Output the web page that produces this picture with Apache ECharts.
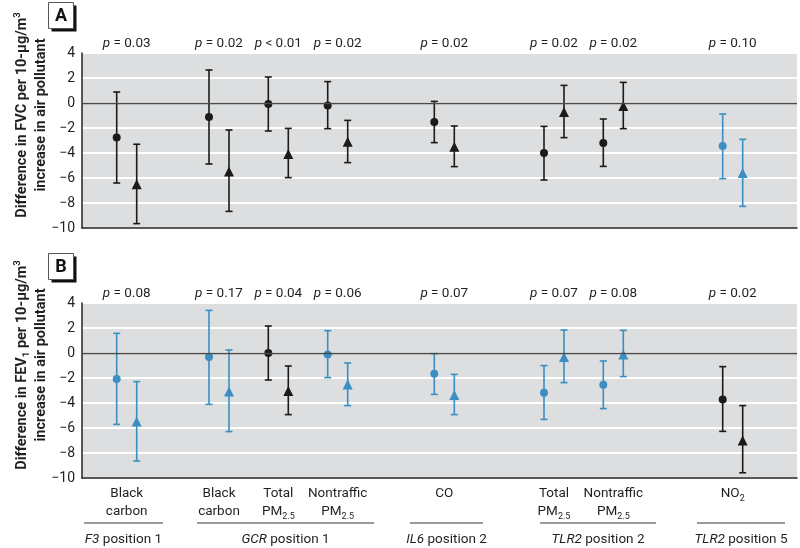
<!DOCTYPE html>
<html>
<head>
<meta charset="utf-8">
<script src="https://cdn.jsdelivr.net/npm/echarts@6/dist/echarts.min.js"></script>
<style>
html,body{margin:0;padding:0;background:#fff;}
#chart{width:800px;height:548px;}
</style>
</head>
<body>
<div id="chart"></div>
<script>
// ---- data ----
const categories = ['Black\ncarbon', 'Black\ncarbon', 'Total\nPM{sub|2.5}', 'Nontraffic\nPM{sub|2.5}', 'CO', 'Total\nPM{sub|2.5}', 'Nontraffic\nPM{sub|2.5}', 'NO{sub|2}'];
const categoryPos = [4.47, 13.7, 19.63, 25.57, 36.23, 47.2, 53.13, 65.07];
const groupNames = ['{i|F3} position 1', '{i|GCR} position 1', '{i|IL6} position 2', '{i|TLR2} position 2', '{i|TLR2} position 5'];
const groupStart = [0.2, 11.5, 32.8, 45.8, 61.5];
const groupEnd = [8.1, 29.2, 40.1, 57.4, 70.3];
const yTicks = [-10, -8, -6, -4, -2, 0, 2, 4];
const yTitleA = 'Difference in FVC per 10-\u00b5g/m{sup|3}\nincrease in air pollutant';
const yTitleB = 'Difference in FEV{sub|1} per 10-\u00b5g/m{sup|3}\nincrease in air pollutant';

const pValuesA = ['= 0.03', '= 0.02', '< 0.01', '= 0.02', '= 0.02', '= 0.02', '= 0.02', '= 0.10'];
const circleEstA = [-2.75, -1.12, -0.08, -0.19, -1.52, -4.0, -3.2, -3.44];
const circleLoA = [-6.4, -4.88, -2.24, -2.05, -3.17, -6.16, -5.07, -6.05];
const circleHiA = [0.88, 2.64, 2.08, 1.71, 0.13, -1.87, -1.28, -0.88];
const triEstA = [-6.5, -5.47, -4.08, -3.09, -3.49, -0.72, -0.24, -5.6];
const triLoA = [-9.65, -8.67, -5.97, -4.77, -5.09, -2.77, -2.05, -8.27];
const triHiA = [-3.3, -2.16, -2.03, -1.39, -1.84, 1.41, 1.65, -2.91];
const highlightA = [0, 0, 0, 0, 0, 0, 0, 1];

const pValuesB = ['= 0.08', '= 0.17', '= 0.04', '= 0.06', '= 0.07', '= 0.07', '= 0.08', '= 0.02'];
const circleEstB = [-2.08, -0.32, 0.0, -0.11, -1.65, -3.17, -2.53, -3.71];
const circleLoB = [-5.71, -4.11, -2.16, -1.97, -3.31, -5.31, -4.45, -6.27];
const circleHiB = [1.57, 3.41, 2.16, 1.79, -0.05, -1.01, -0.64, -1.09];
const triEstB = [-5.47, -3.07, -3.04, -2.51, -3.36, -0.32, -0.11, -6.99];
const triLoB = [-8.64, -6.29, -4.93, -4.21, -4.93, -2.37, -1.89, -9.58];
const triHiB = [-2.29, 0.24, -1.04, -0.8, -1.71, 1.84, 1.81, -4.21];
const highlightB = [1, 1, 0, 1, 1, 1, 1, 0];

// ---- style ----
const FONT = "Roboto, 'Liberation Sans', sans-serif";
const BLACK = '#1b1b1b';
const BLUE = '#3b8fc2';
const TXT = '#231f20';
const OFFSET = 1.0;
const XMAX = 71.5;

function idxOf(v) {
  let best = 0, bd = 1e9;
  categoryPos.forEach((p, i) => { const d = Math.abs(p - v); if (d < bd) { bd = d; best = i; } });
  return best;
}

function errorSeries(gi, lo, hi, hl, side) {
  const data = categoryPos.map((p, i) => [p + side * OFFSET, lo[i], hi[i], hl[i]]);
  return {
    type: 'custom', xAxisIndex: gi * 2, yAxisIndex: gi, silent: true, z: 3,
    data: data,
    encode: { x: 0, y: [1, 2] },
    renderItem: function (params, api) {
      const x = api.value(0);
      const a = api.coord([x, api.value(1)]);
      const b = api.coord([x, api.value(2)]);
      const c = api.value(3) ? BLUE : BLACK;
      const w = 3.5;
      const st = { stroke: c, lineWidth: 1.6 };
      return {
        type: 'group', children: [
          { type: 'line', shape: { x1: a[0], y1: a[1], x2: b[0], y2: b[1] }, style: st },
          { type: 'line', shape: { x1: a[0] - w, y1: a[1], x2: a[0] + w, y2: a[1] }, style: st },
          { type: 'line', shape: { x1: b[0] - w, y1: b[1], x2: b[0] + w, y2: b[1] }, style: st }
        ]
      };
    }
  };
}

function pointSeries(gi, est, hl, side, symbol, size) {
  return {
    type: 'scatter', xAxisIndex: gi * 2, yAxisIndex: gi, symbol: symbol, symbolSize: size, z: 4, silent: true,
    data: categoryPos.map((p, i) => ({ value: [p + side * OFFSET, est[i]], itemStyle: { color: hl[i] ? BLUE : BLACK, opacity: 1 } }))
  };
}

function zeroLine(gi) {
  return {
    type: 'line', xAxisIndex: gi * 2, yAxisIndex: gi, data: [], silent: true, z: 2,
    markLine: {
      silent: true, symbol: 'none', label: { show: false },
      lineStyle: { color: '#4a4a4a', width: 1.3, type: 'solid' },
      data: [{ yAxis: 0 }]
    }
  };
}

const grids = [
  { left: 82, top: 53, width: 715, height: 175, show: true, backgroundColor: '#dcdedf', borderWidth: 0, containLabel: false, outerBoundsMode: 'none' },
  { left: 82, top: 303, width: 715, height: 175, show: true, backgroundColor: '#dcdedf', borderWidth: 0, containLabel: false, outerBoundsMode: 'none' }
];

function bottomAxis(gi, withLabels) {
  return {
    type: 'value', gridIndex: gi, position: 'bottom', min: 0, max: XMAX,
    axisLine: { show: true, onZero: false, lineStyle: { color: '#222', width: 1.5 } },
    axisTick: { show: false }, splitLine: { show: false },
    axisLabel: withLabels ? {
      show: true, customValues: categoryPos, margin: 7, color: TXT, fontFamily: FONT, fontSize: 13.5, lineHeight: 18,
      formatter: function (v) { return categories[idxOf(v)]; },
      rich: { sub: { fontSize: 9, fontFamily: FONT, color: TXT, verticalAlign: 'bottom', lineHeight: 10 } }
    } : { show: false }
  };
}

function topAxis(gi, pv) {
  return {
    type: 'value', gridIndex: gi, position: 'top', min: 0, max: XMAX,
    axisLine: { show: false }, axisTick: { show: false }, splitLine: { show: false },
    axisLabel: {
      show: true, customValues: categoryPos, margin: 2, color: TXT, fontFamily: FONT, fontSize: 13.5,
      formatter: function (v) { return '{i|p} ' + pv[idxOf(v)]; },
      rich: { i: { fontStyle: 'italic', fontFamily: FONT, fontSize: 13.5, color: TXT } }
    }
  };
}

function yAxis(gi) {
  return {
    type: 'value', gridIndex: gi, min: yTicks[0], max: yTicks[yTicks.length - 1], interval: 2,
    axisLine: { show: true, onZero: false, lineStyle: { color: '#222', width: 1.5 } },
    axisTick: { show: false },
    splitLine: { show: true, lineStyle: { color: '#ffffff', width: 2 } },
    axisLabel: {
      color: TXT, fontFamily: FONT, fontSize: 14, margin: 7,
      formatter: function (v) { return String(v).replace('-', '\u2212'); }
    }
  };
}

function yTitle(text, cy) {
  return {
    type: 'text', x: 32, y: cy, rotation: Math.PI / 2, silent: true,
    style: {
      text: text, align: 'center', verticalAlign: 'middle',
      fill: TXT, fontFamily: FONT, fontSize: 14.5, fontWeight: 'bold', lineHeight: 19,
      rich: {
        sup: { fontSize: 9.5, fontWeight: 'bold', fontFamily: FONT, fill: TXT, verticalAlign: 'top', lineHeight: 10 },
        sub: { fontSize: 9.5, fontWeight: 'bold', fontFamily: FONT, fill: TXT, verticalAlign: 'bottom', lineHeight: 8 }
      }
    }
  };
}

const groupSeries = {
  type: 'custom', xAxisIndex: 2, yAxisIndex: 1, silent: true, clip: false, z: 5,
  data: groupNames.map((n, i) => [groupStart[i], groupEnd[i], i]),
  encode: { x: [0, 1] },
  renderItem: function (params, api) {
    const a = api.coord([api.value(0), yTicks[0]]);
    const b = api.coord([api.value(1), yTicks[0]]);
    const y = a[1] + 45;
    return {
      type: 'group', children: [
        { type: 'line', shape: { x1: a[0], y1: y, x2: b[0], y2: y }, style: { stroke: '#9a9a9a', lineWidth: 2 } },
        {
          type: 'text', x: (a[0] + b[0]) / 2, y: y + 17,
          style: {
            text: groupNames[api.value(2)], align: 'center', verticalAlign: 'middle',
            fontFamily: FONT, fontSize: 13.5, fill: TXT,
            rich: { i: { fontStyle: 'italic', fontFamily: FONT, fontSize: 13.5, fill: TXT } }
          }
        }
      ]
    };
  }
};

function panelBox(letter, top) {
  return {
    type: 'group', left: 48, top: top, children: [
      { type: 'rect', shape: { x: 3, y: 3, width: 25, height: 26 }, style: { fill: '#111' } },
      { type: 'rect', shape: { x: 0, y: 0, width: 25, height: 26 }, style: { fill: '#fff', stroke: '#555', lineWidth: 1 } },
      { type: 'text', x: 12.5, y: 13.5, style: { text: letter, align: 'center', verticalAlign: 'middle', fontFamily: FONT, fontSize: 18, fontWeight: 'bold', fill: '#111' } }
    ]
  };
}

const chart = echarts.init(document.getElementById('chart'), null, { renderer: 'canvas' });
chart.setOption({
  animation: false,
  backgroundColor: '#ffffff',
  grid: grids,
  xAxis: [bottomAxis(0, false), topAxis(0, pValuesA), bottomAxis(1, true), topAxis(1, pValuesB)],
  yAxis: [yAxis(0), yAxis(1)],
  graphic: [panelBox('A', 2), panelBox('B', 253), yTitle(yTitleA, 115), yTitle(yTitleB, 365)],
  series: [
    zeroLine(0), zeroLine(1),
    errorSeries(0, circleLoA, circleHiA, highlightA, -1),
    errorSeries(0, triLoA, triHiA, highlightA, 1),
    pointSeries(0, circleEstA, highlightA, -1, 'circle', 8),
    pointSeries(0, triEstA, highlightA, 1, 'triangle', 10),
    errorSeries(1, circleLoB, circleHiB, highlightB, -1),
    errorSeries(1, triLoB, triHiB, highlightB, 1),
    pointSeries(1, circleEstB, highlightB, -1, 'circle', 8),
    pointSeries(1, triEstB, highlightB, 1, 'triangle', 10),
    groupSeries
  ]
});
</script>
</body>
</html>
